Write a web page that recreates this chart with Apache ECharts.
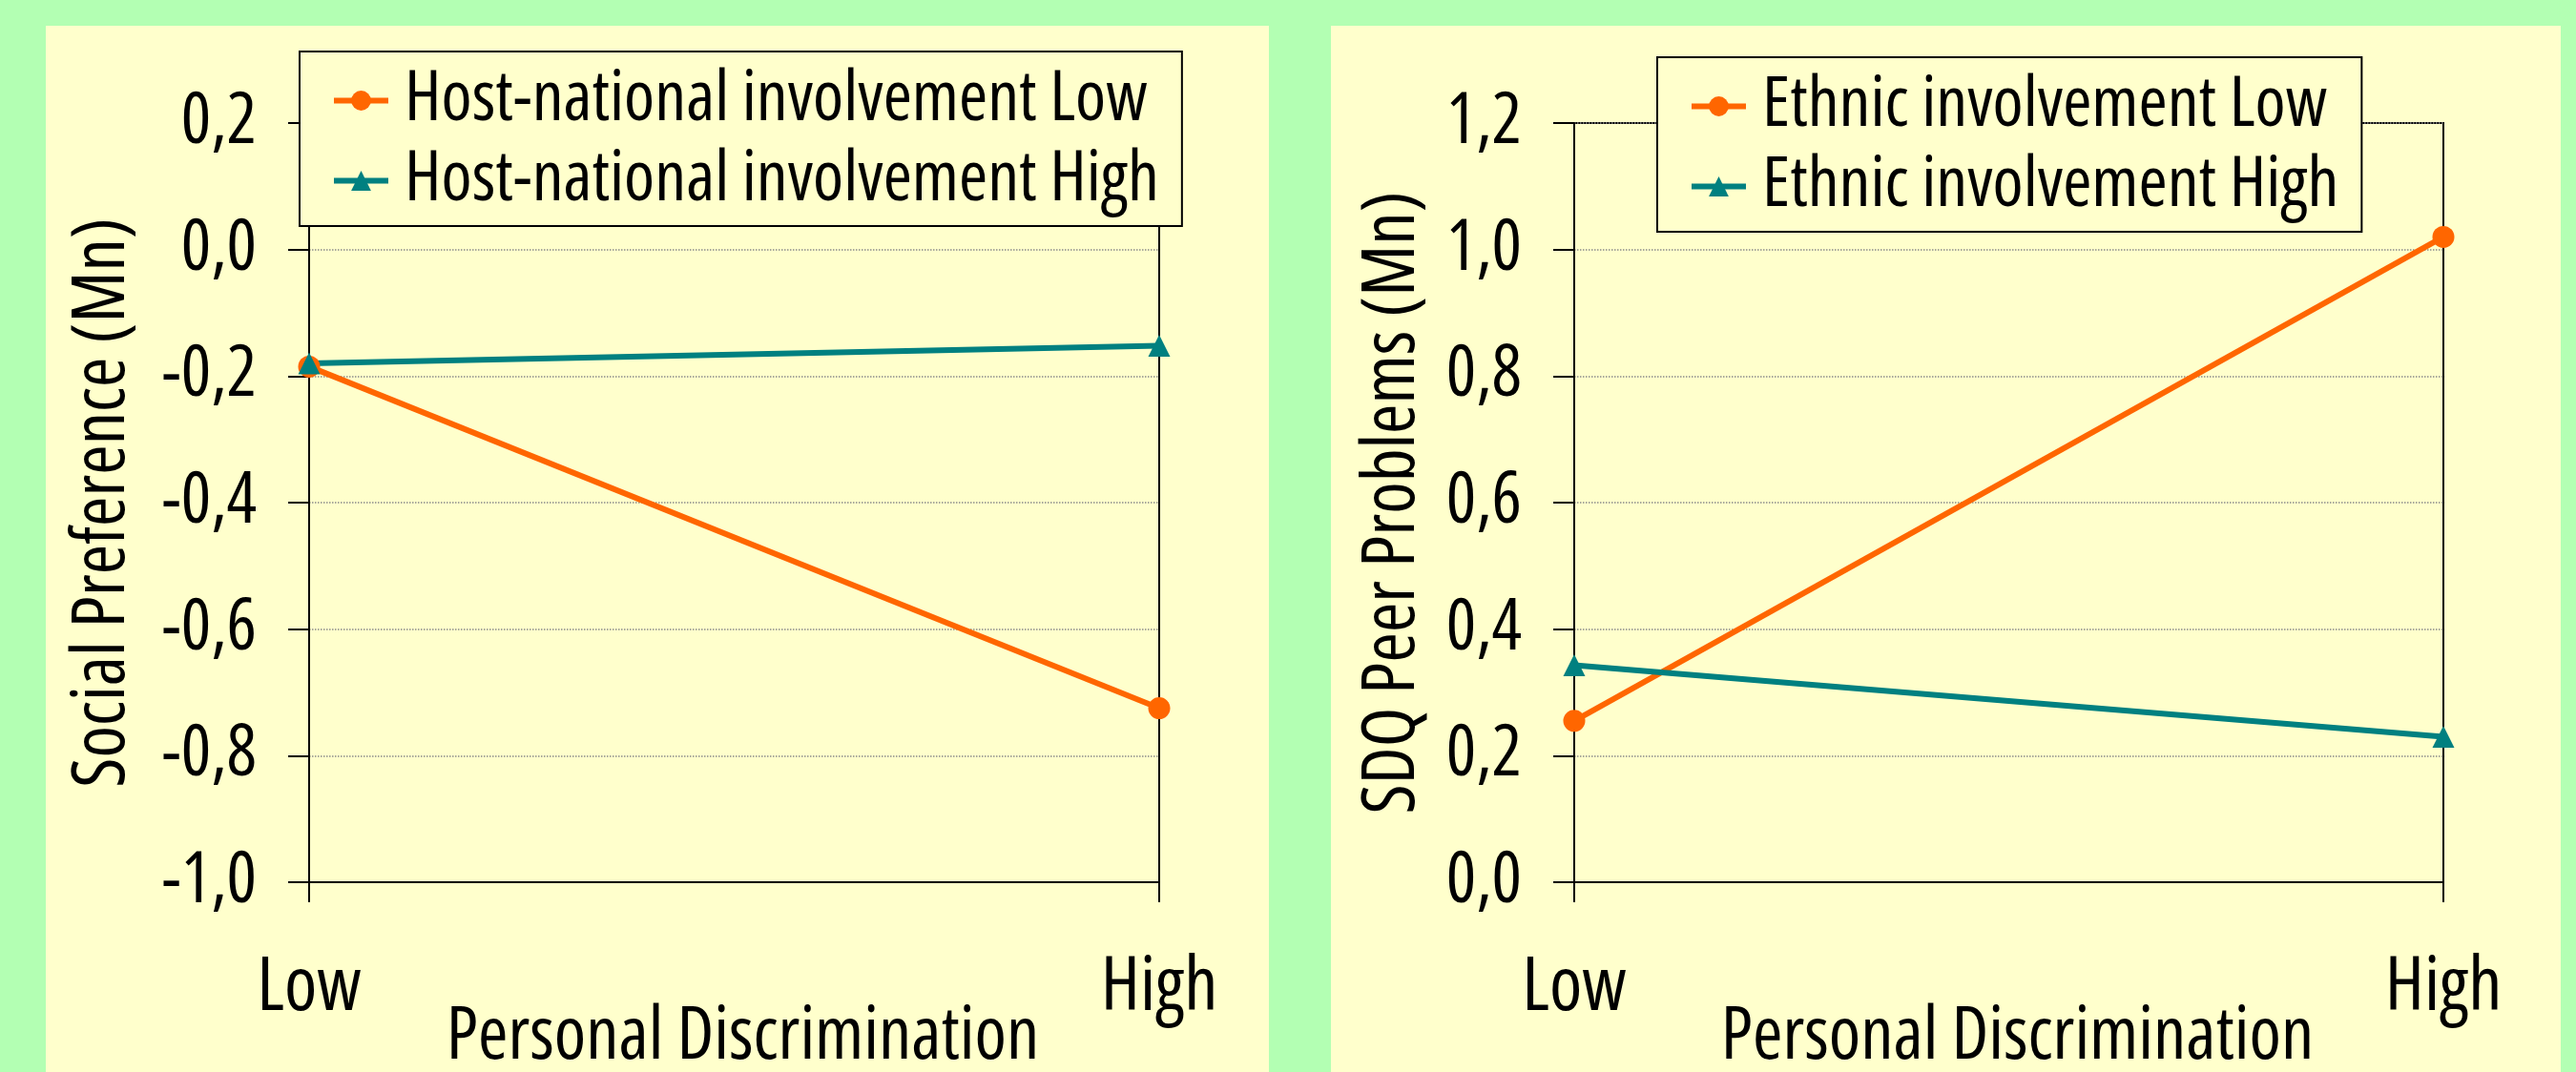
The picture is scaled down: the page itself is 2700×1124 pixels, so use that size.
<!DOCTYPE html>
<html>
<head>
<meta charset="utf-8">
<script src="https://cdn.jsdelivr.net/npm/echarts@6/dist/echarts.min.js"></script>
<style>
html,body{margin:0;padding:0;background:#B3FFB3;}
#c{width:2700px;height:1124px;}
</style>
</head>
<body>
<div id="c"></div>
<script>
// ---- data ----
const categories = ['Low', 'High'];
const xTitle = 'Personal Discrimination';

const leftYTitle = 'Social Preference (Mn)';
const leftSeriesNames = ['Host-national involvement Low', 'Host-national involvement High'];
const leftLow = [-0.185, -0.725];
const leftHigh = [-0.18, -0.152];
const leftAxis = { min: -1.0, max: 0.2, interval: 0.2 };

const rightYTitle = 'SDQ Peer Problems (Mn)';
const rightSeriesNames = ['Ethnic involvement Low', 'Ethnic involvement High'];
const rightLow = [0.255, 1.02];
const rightHigh = [0.343, 0.23];
const rightAxis = { min: 0.0, max: 1.2, interval: 0.2 };

// ---- style ----
const FONT = "'Open Sans', 'Liberation Sans', sans-serif";
const STRETCH = 'condensed';   // goes into the canvas font shorthand (font-stretch)
const ORANGE = '#FF6600';
const TEAL = '#008080';
const PANEL = '#FFFFCC';

function txt(size, extra) {
  return Object.assign({ fontFamily: FONT, fontWeight: STRETCH, fontSize: size, color: '#000' }, extra || {});
}
function fmt(v) {
  return (Math.round(v * 10) / 10).toFixed(1).replace('.', ',');
}

function yAxisOpt(idx, ax, title, gap) {
  return {
    type: 'value', gridIndex: idx, min: ax.min, max: ax.max, interval: ax.interval,
    name: title, nameLocation: 'middle', nameRotate: 90, nameGap: gap, nameMoveOverlap: false,
    nameTextStyle: txt(76, { lineHeight: 76 }),
    axisLine: { show: true, onZero: false, lineStyle: { color: '#000', width: 2 } },
    axisTick: { show: true, length: 22, lineStyle: { color: '#000', width: 2 } },
    axisLabel: Object.assign(txt(74), { formatter: fmt, margin: 55 }),
    splitLine: { show: true, lineStyle: { type: 'dotted', color: '#8a8a8a', width: 1.5 } }
  };
}
function xAxisOpt(idx) {
  return {
    type: 'category', gridIndex: idx, data: categories, boundaryGap: false,
    name: xTitle, nameLocation: 'middle', nameGap: 125, nameMoveOverlap: false,
    nameTextStyle: txt(76, { lineHeight: 76, padding: [0, 0, 0, 18] }),
    axisLine: { show: true, onZero: false, lineStyle: { color: '#000', width: 2 } },
    axisTick: { show: true, length: 21, lineStyle: { color: '#000', width: 2 } },
    axisLabel: Object.assign(txt(78, { lineHeight: 78 }), { margin: 73 }),
    splitLine: { show: false }
  };
}
function lineSeries(name, data, color, symbol, xi) {
  return {
    type: 'line', name: name, data: data, xAxisIndex: xi, yAxisIndex: xi,
    symbol: symbol, symbolSize: 23, showSymbol: true,
    lineStyle: { color: color, width: 6 },
    itemStyle: { color: color },
    emphasis: { disabled: true }, animation: false
  };
}
function legendOpt(names, left, top) {
  return {
    data: names, orient: 'vertical', left: left, top: top,
    backgroundColor: PANEL, borderColor: '#000', borderWidth: 2,
    padding: [15, 24, 11, 33], itemGap: 11, itemWidth: 57, itemHeight: 26,
    lineStyle: { width: 6 },
    textStyle: txt(73, { lineHeight: 68, padding: [0, 0, 0, 12] }),
    selectedMode: false
  };
}

const chart = echarts.init(document.getElementById('c'), null, { renderer: 'canvas' });
chart.setOption({
  backgroundColor: '#B3FFB3',
  animation: false,
  graphic: [
    { type: 'rect', shape: { x: 48, y: 27, width: 1282, height: 1097 }, style: { fill: PANEL }, z: -10, silent: true },
    { type: 'rect', shape: { x: 1395, y: 27, width: 1289, height: 1097 }, style: { fill: PANEL }, z: -10, silent: true }
  ],
  grid: [
    { left: 324, top: 129, width: 891, height: 796, outerBoundsMode: 'none', containLabel: false,
      show: true, borderColor: '#000', borderWidth: 2, backgroundColor: 'transparent' },
    { left: 1650, top: 129, width: 911, height: 796, outerBoundsMode: 'none', containLabel: false,
      show: true, borderColor: '#000', borderWidth: 2, backgroundColor: 'transparent' }
  ],
  xAxis: [xAxisOpt(0), xAxisOpt(1)],
  yAxis: [yAxisOpt(0, leftAxis, leftYTitle, 178), yAxisOpt(1, rightAxis, rightYTitle, 152)],
  legend: [legendOpt(leftSeriesNames, 314, 54), legendOpt(rightSeriesNames, 1737, 60)],
  series: [
    lineSeries(leftSeriesNames[0], leftLow, ORANGE, 'circle', 0),
    lineSeries(leftSeriesNames[1], leftHigh, TEAL, 'triangle', 0),
    lineSeries(rightSeriesNames[0], rightLow, ORANGE, 'circle', 1),
    lineSeries(rightSeriesNames[1], rightHigh, TEAL, 'triangle', 1)
  ]
});
</script>
</body>
</html>
